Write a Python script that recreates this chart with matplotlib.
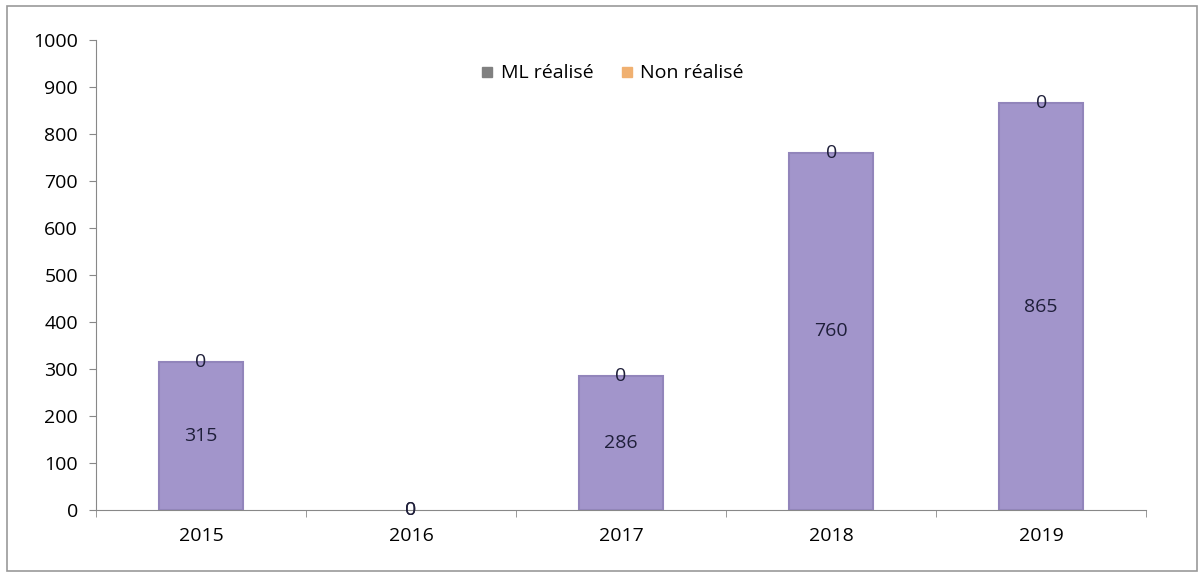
import numpy as np
import matplotlib.pyplot as plt
from matplotlib.patches import Rectangle

years = ['2015', '2016', '2017', '2018', '2019']
ml_realise = [315, 0, 286, 760, 865]
non_realise = [0, 0, 0, 0, 0]

plt.rcParams['font.family'] = ['Open Sans', 'DejaVu Sans']

fig = plt.figure(figsize=(12.04, 5.78), dpi=100)
ax = fig.add_axes([0.0797, 0.1176, 0.8723, 0.8135])

x = np.arange(len(years))
b1 = ax.bar(x, ml_realise, width=0.4, color='#a295cb', edgecolor='#9285bb', linewidth=1.5)
b2 = ax.bar(x, non_realise, width=0.4, bottom=ml_realise, color='#f0b070', linewidth=0)
for rect, v in zip(b1, ml_realise):
    if v == 0:
        rect.set_linewidth(0)

ax.bar_label(b1, label_type='center', fontsize=14, color='#1f1f3a')
ax.bar_label(b2, label_type='center', fontsize=14, color='#1f1f3a')

ax.set_xlim(-0.5, len(years) - 0.5)
ax.set_ylim(0, 1000)
ax.set_yticks(np.arange(0, 1001, 100))
ax.set_xticks(x)
ax.set_xticklabels(years)
ax.set_xticks(np.arange(-0.5, len(years), 1), minor=True)
ax.tick_params(axis='x', which='major', length=0, pad=12, labelsize=14)
ax.tick_params(axis='x', which='minor', length=5, color='#888888', direction='out')
ax.tick_params(axis='y', length=5, color='#888888', labelsize=14, pad=8)

for side in ['top', 'right']:
    ax.spines[side].set_visible(False)
ax.spines['left'].set_color('#888888')
ax.spines['bottom'].set_color('#888888')

# legend with small square markers
h1 = plt.Line2D([], [], marker='s', linestyle='', color='#808080', markersize=7)
h2 = plt.Line2D([], [], marker='s', linestyle='', color='#f0b070', markersize=7)
ax.legend([h1, h2], ['ML réalisé', 'Non réalisé'], loc='upper center', ncol=2,
          frameon=False, fontsize=14, bbox_to_anchor=(0.49, 0.985),
          handletextpad=0.2, columnspacing=1.2, handlelength=1)

fig.patches.append(Rectangle((0.006, 0.012), 0.988, 0.978, transform=fig.transFigure,
                             fill=False, edgecolor='#999999', linewidth=1.2))

fig.savefig('out.png', dpi=100)
